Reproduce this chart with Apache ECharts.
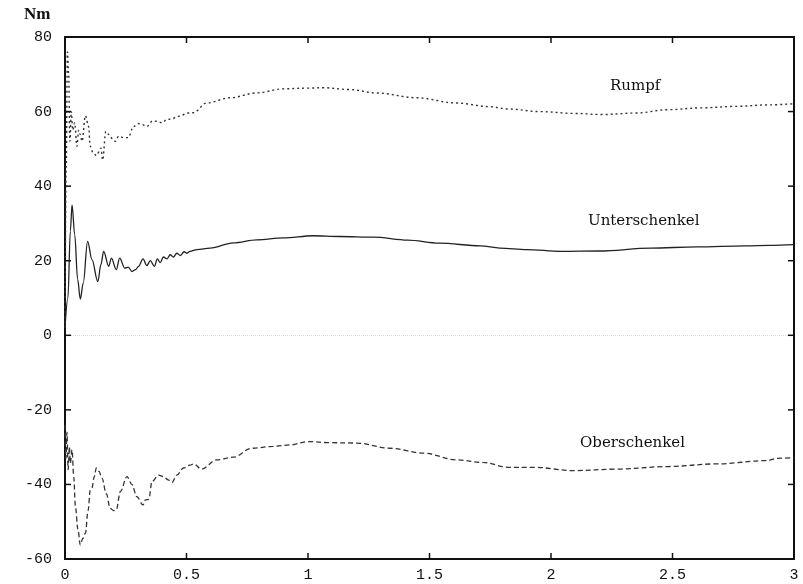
<!DOCTYPE html>
<html>
<head>
<meta charset="utf-8">
<script src="https://cdn.jsdelivr.net/npm/echarts@6/dist/echarts.min.js"></script>
<style>
  html, body { margin: 0; padding: 0; background: #fff; }
  #chart { width: 803px; height: 584px; }
</style>
</head>
<body>
<div id="chart"></div>
<script>
// Rumpf (dotted)
const rumpfT = [0, 0.005, 0.01, 0.015, 0.02, 0.026, 0.032, 0.04, 0.049, 0.056, 0.063, 0.07, 0.084, 0.097, 0.104, 0.115, 0.129, 0.148, 0.155, 0.168, 0.177, 0.186, 0.197, 0.207, 0.221, 0.24, 0.26, 0.282, 0.3, 0.317, 0.337, 0.36, 0.379, 0.4, 0.42, 0.44, 0.46, 0.48, 0.502, 0.528, 0.583, 0.679, 0.789, 0.898, 1.0, 1.063, 1.173, 1.28, 1.447, 1.61, 1.75, 1.824, 1.95, 2.1, 2.21, 2.35, 2.48, 2.62, 2.76, 2.9, 3.0];
const rumpfV = [2, 45, 76, 70, 52, 60, 55, 57, 50.7, 55, 53.8, 52, 58.9, 56, 50.7, 49, 48.2, 50.2, 47, 54.7, 54, 53.4, 52.5, 52, 53.4, 53, 53, 56, 56.8, 56.5, 56, 57.5, 57.4, 57, 57.9, 58, 58.6, 59, 59.6, 59.7, 62.3, 63.7, 65, 66.1, 66.3, 66.4, 65.9, 65, 63.7, 62.3, 61.3, 60.7, 60, 59.5, 59.2, 59.6, 60.5, 61, 61.4, 61.8, 62.1];

// Unterschenkel (solid)
const unterT = [0, 0.012, 0.022, 0.029, 0.04, 0.052, 0.063, 0.075, 0.093, 0.111, 0.135, 0.148, 0.159, 0.18, 0.191, 0.211, 0.225, 0.246, 0.26, 0.276, 0.29, 0.303, 0.321, 0.337, 0.351, 0.368, 0.38, 0.392, 0.405, 0.42, 0.433, 0.446, 0.46, 0.475, 0.49, 0.502, 0.514, 0.543, 0.597, 0.693, 0.789, 0.898, 1.02, 1.13, 1.27, 1.41, 1.54, 1.71, 1.79, 1.9, 2.04, 2.2, 2.41, 2.6, 2.8, 2.9, 3.0];
const unterV = [2, 10, 28, 35, 27, 15, 9.7, 14, 25.2, 20.3, 14.4, 19, 22.5, 18.5, 20.7, 17.6, 20.7, 18, 18.3, 17.1, 17.6, 18.5, 20.5, 18.7, 20, 18.5, 20.5, 19.5, 21, 20.5, 21.6, 21, 22, 21.4, 22.4, 22, 22.5, 23, 23.4, 24.8, 25.6, 26.1, 26.7, 26.5, 26.3, 25.5, 24.7, 24, 23.4, 23, 22.5, 22.6, 23.4, 23.7, 24, 24.1, 24.3];

// Oberschenkel (dashed)
const oberT = [0, 0.004, 0.008, 0.013, 0.018, 0.022, 0.029, 0.036, 0.043, 0.053, 0.063, 0.073, 0.084, 0.095, 0.104, 0.111, 0.12, 0.129, 0.14, 0.152, 0.17, 0.186, 0.2, 0.211, 0.228, 0.255, 0.275, 0.296, 0.321, 0.33, 0.345, 0.358, 0.385, 0.406, 0.425, 0.44, 0.46, 0.488, 0.514, 0.53, 0.562, 0.624, 0.693, 0.768, 0.857, 0.926, 1.0, 1.09, 1.2, 1.337, 1.475, 1.61, 1.72, 1.824, 1.93, 2.09, 2.27, 2.48, 2.68, 2.89, 2.93, 3.0];
const oberV = [-24, -33, -26, -36, -30, -34.3, -30.7, -38, -46, -52, -56.2, -54.5, -53.1, -47, -41.5, -41, -38, -35.6, -36.5, -38.3, -42.5, -46.4, -47, -46.8, -41.9, -37.9, -40, -43.3, -45.5, -44.2, -44, -39.2, -37.5, -37.9, -38.8, -39.5, -37.5, -35.6, -34.8, -34.5, -35.9, -33.4, -32.7, -30.3, -29.8, -29.4, -28.5, -28.8, -28.9, -30.3, -31.6, -33.4, -34.1, -35.4, -35.4, -36.3, -35.9, -35.2, -34.5, -33.6, -33, -32.8];

const xTicks = [0, 0.5, 1, 1.5, 2, 2.5, 3];
const yTicks = [-60, -40, -20, 0, 20, 40, 60, 80];

const pairs = (t, v) => t.map((x, i) => [x, v[i]]);

const xMin = xTicks[0], xMax = xTicks[xTicks.length - 1];
const yMin = yTicks[0], yMax = yTicks[yTicks.length - 1];

// inward tick marks on all four sides, as small rects pinned to the tick values
const tickPts = [];
xTicks.forEach(x => {
  tickPts.push({ value: [x, yMin], symbolSize: [1.5, 6], symbolOffset: [0, -3] });
  tickPts.push({ value: [x, yMax], symbolSize: [1.5, 6], symbolOffset: [0, 3] });
});
yTicks.forEach(y => {
  tickPts.push({ value: [xMin, y], symbolSize: [6, 1.5], symbolOffset: [3, 0] });
  tickPts.push({ value: [xMax, y], symbolSize: [6, 1.5], symbolOffset: [-3, 0] });
});

const myChart = echarts.init(document.getElementById("chart"));

function axisLine() {
  return { show: true, onZero: false, lineStyle: { color: "#111", width: 2 } };
}
const tickFont = { color: "#111", fontFamily: "Liberation Mono", fontSize: 15 };

function xAxis(pos, labels) {
  return {
    type: "value",
    position: pos,
    min: xMin,
    max: xMax,
    interval: 0.5,
    axisLine: axisLine(),
    axisTick: { show: false },
    splitLine: { show: false },
    axisLabel: labels ? Object.assign({ margin: 9 }, tickFont) : { show: false }
  };
}
function yAxis(pos, labels) {
  return {
    type: "value",
    position: pos,
    min: yMin,
    max: yMax,
    interval: 20,
    axisLine: axisLine(),
    axisTick: { show: false },
    splitLine: { show: false },
    axisLabel: labels ? Object.assign({ margin: 13 }, tickFont) : { show: false }
  };
}

const option = {
  animation: false,
  backgroundColor: "#fff",
  grid: { left: 65, right: 9, top: 37, bottom: 25 },
  xAxis: [xAxis("bottom", true), xAxis("top", false)],
  yAxis: [yAxis("left", true), yAxis("right", false)],
  graphic: [
    { type: "text", left: 24, top: 6, style: { text: "Nm", font: "bold 17px 'Liberation Serif'", fill: "#111" } },
    { type: "text", left: 610, top: 79, style: { text: "Rumpf", font: "15px 'DejaVu Serif'", fill: "#111" } },
    { type: "text", left: 588, top: 214, style: { text: "Unterschenkel", font: "15px 'DejaVu Serif'", fill: "#111" } },
    { type: "text", left: 580, top: 436, style: { text: "Oberschenkel", font: "15px 'DejaVu Serif'", fill: "#111" } }
  ],
  series: [
    {
      name: "Rumpf",
      type: "line",
      showSymbol: false,
      smooth: 0.35,
      smoothMonotone: "x",
      data: pairs(rumpfT, rumpfV),
      lineStyle: { color: "#333", width: 1.4, type: [2, 3] }
    },
    {
      name: "Unterschenkel",
      type: "line",
      showSymbol: false,
      smooth: 0.35,
      smoothMonotone: "x",
      data: pairs(unterT, unterV),
      lineStyle: { color: "#222", width: 1.3, type: "solid" },
      markLine: {
        silent: true,
        symbol: "none",
        label: { show: false },
        lineStyle: { color: "#d8d8d8", width: 1, type: "dotted" },
        data: [{ yAxis: 0 }]
      }
    },
    {
      name: "Oberschenkel",
      type: "line",
      showSymbol: false,
      smooth: 0.35,
      smoothMonotone: "x",
      data: pairs(oberT, oberV),
      lineStyle: { color: "#333", width: 1.3, type: [5, 3] }
    },
    {
      name: "ticks",
      type: "scatter",
      silent: true,
      clip: false,
      symbol: "rect",
      itemStyle: { color: "#111", opacity: 1 },
      emphasis: { disabled: true },
      data: tickPts,
      z: 5
    }
  ]
};

myChart.setOption(option);
</script>
</body>
</html>
